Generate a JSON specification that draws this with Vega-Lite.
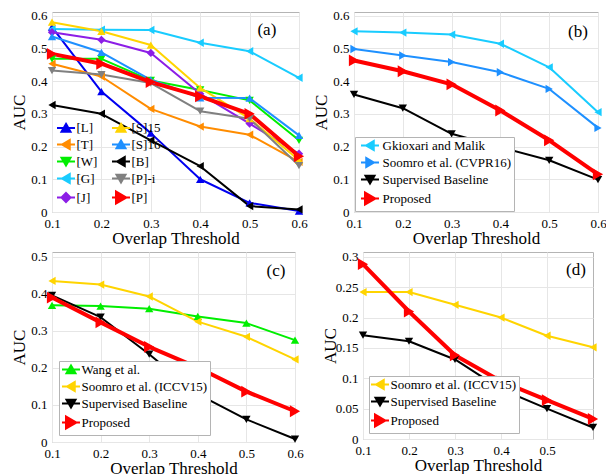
{
  "$schema": "https://vega.github.io/schema/vega-lite/v6.json",
  "padding": {"left": 9, "top": 9, "right": 0, "bottom": 0},
  "background": "white",
  "datasets": {
    "a": [
      {"m": "[L]", "t": 0.1, "auc": 0.565}, {"m": "[L]", "t": 0.2, "auc": 0.368}, {"m": "[L]", "t": 0.3, "auc": 0.241}, {"m": "[L]", "t": 0.4, "auc": 0.1}, {"m": "[L]", "t": 0.5, "auc": 0.028}, {"m": "[L]", "t": 0.6, "auc": 0.003},
      {"m": "[T]", "t": 0.1, "auc": 0.453}, {"m": "[T]", "t": 0.2, "auc": 0.414}, {"m": "[T]", "t": 0.3, "auc": 0.315}, {"m": "[T]", "t": 0.4, "auc": 0.261}, {"m": "[T]", "t": 0.5, "auc": 0.236}, {"m": "[T]", "t": 0.6, "auc": 0.153},
      {"m": "[W]", "t": 0.1, "auc": 0.468}, {"m": "[W]", "t": 0.2, "auc": 0.468}, {"m": "[W]", "t": 0.3, "auc": 0.402}, {"m": "[W]", "t": 0.4, "auc": 0.373}, {"m": "[W]", "t": 0.5, "auc": 0.341}, {"m": "[W]", "t": 0.6, "auc": 0.219},
      {"m": "[G]", "t": 0.1, "auc": 0.559}, {"m": "[G]", "t": 0.2, "auc": 0.557}, {"m": "[G]", "t": 0.3, "auc": 0.556}, {"m": "[G]", "t": 0.4, "auc": 0.517}, {"m": "[G]", "t": 0.5, "auc": 0.491}, {"m": "[G]", "t": 0.6, "auc": 0.41},
      {"m": "[J]", "t": 0.1, "auc": 0.549}, {"m": "[J]", "t": 0.2, "auc": 0.526}, {"m": "[J]", "t": 0.3, "auc": 0.486}, {"m": "[J]", "t": 0.4, "auc": 0.361}, {"m": "[J]", "t": 0.5, "auc": 0.27}, {"m": "[J]", "t": 0.6, "auc": 0.178},
      {"m": "[S]15", "t": 0.1, "auc": 0.58}, {"m": "[S]15", "t": 0.2, "auc": 0.552}, {"m": "[S]15", "t": 0.3, "auc": 0.51}, {"m": "[S]15", "t": 0.4, "auc": 0.379}, {"m": "[S]15", "t": 0.5, "auc": 0.285}, {"m": "[S]15", "t": 0.6, "auc": 0.158},
      {"m": "[S]16", "t": 0.1, "auc": 0.536}, {"m": "[S]16", "t": 0.2, "auc": 0.488}, {"m": "[S]16", "t": 0.3, "auc": 0.404}, {"m": "[S]16", "t": 0.4, "auc": 0.349}, {"m": "[S]16", "t": 0.5, "auc": 0.348}, {"m": "[S]16", "t": 0.6, "auc": 0.234},
      {"m": "[B]", "t": 0.1, "auc": 0.327}, {"m": "[B]", "t": 0.2, "auc": 0.3}, {"m": "[B]", "t": 0.3, "auc": 0.219}, {"m": "[B]", "t": 0.4, "auc": 0.14}, {"m": "[B]", "t": 0.5, "auc": 0.018}, {"m": "[B]", "t": 0.6, "auc": 0.008},
      {"m": "[P]-i", "t": 0.1, "auc": 0.432}, {"m": "[P]-i", "t": 0.2, "auc": 0.42}, {"m": "[P]-i", "t": 0.3, "auc": 0.394}, {"m": "[P]-i", "t": 0.4, "auc": 0.308}, {"m": "[P]-i", "t": 0.5, "auc": 0.285}, {"m": "[P]-i", "t": 0.6, "auc": 0.142},
      {"m": "[P]", "t": 0.1, "auc": 0.483}, {"m": "[P]", "t": 0.2, "auc": 0.453}, {"m": "[P]", "t": 0.3, "auc": 0.397}, {"m": "[P]", "t": 0.4, "auc": 0.353}, {"m": "[P]", "t": 0.5, "auc": 0.3}, {"m": "[P]", "t": 0.6, "auc": 0.17}
    ],
    "b": [
      {"m": "Gkioxari and Malik", "t": 0.1, "auc": 0.552}, {"m": "Gkioxari and Malik", "t": 0.2, "auc": 0.548}, {"m": "Gkioxari and Malik", "t": 0.3, "auc": 0.542}, {"m": "Gkioxari and Malik", "t": 0.4, "auc": 0.514}, {"m": "Gkioxari and Malik", "t": 0.5, "auc": 0.442}, {"m": "Gkioxari and Malik", "t": 0.6, "auc": 0.305},
      {"m": "Soomro et al. (CVPR16)", "t": 0.1, "auc": 0.498}, {"m": "Soomro et al. (CVPR16)", "t": 0.2, "auc": 0.478}, {"m": "Soomro et al. (CVPR16)", "t": 0.3, "auc": 0.458}, {"m": "Soomro et al. (CVPR16)", "t": 0.4, "auc": 0.427}, {"m": "Soomro et al. (CVPR16)", "t": 0.5, "auc": 0.376}, {"m": "Soomro et al. (CVPR16)", "t": 0.6, "auc": 0.257},
      {"m": "Supervised Baseline", "t": 0.1, "auc": 0.359}, {"m": "Supervised Baseline", "t": 0.2, "auc": 0.317}, {"m": "Supervised Baseline", "t": 0.3, "auc": 0.239}, {"m": "Supervised Baseline", "t": 0.4, "auc": 0.198}, {"m": "Supervised Baseline", "t": 0.5, "auc": 0.158}, {"m": "Supervised Baseline", "t": 0.6, "auc": 0.099},
      {"m": "Proposed", "t": 0.1, "auc": 0.463}, {"m": "Proposed", "t": 0.2, "auc": 0.43}, {"m": "Proposed", "t": 0.3, "auc": 0.39}, {"m": "Proposed", "t": 0.4, "auc": 0.31}, {"m": "Proposed", "t": 0.5, "auc": 0.219}, {"m": "Proposed", "t": 0.6, "auc": 0.115}
    ],
    "c": [
      {"m": "Wang et al.", "t": 0.1, "auc": 0.369}, {"m": "Wang et al.", "t": 0.2, "auc": 0.367}, {"m": "Wang et al.", "t": 0.3, "auc": 0.36}, {"m": "Wang et al.", "t": 0.4, "auc": 0.339}, {"m": "Wang et al.", "t": 0.5, "auc": 0.321}, {"m": "Wang et al.", "t": 0.6, "auc": 0.275},
      {"m": "Soomro et al. (ICCV15)", "t": 0.1, "auc": 0.435}, {"m": "Soomro et al. (ICCV15)", "t": 0.2, "auc": 0.425}, {"m": "Soomro et al. (ICCV15)", "t": 0.3, "auc": 0.393}, {"m": "Soomro et al. (ICCV15)", "t": 0.4, "auc": 0.325}, {"m": "Soomro et al. (ICCV15)", "t": 0.5, "auc": 0.284}, {"m": "Soomro et al. (ICCV15)", "t": 0.6, "auc": 0.223},
      {"m": "Supervised Baseline", "t": 0.1, "auc": 0.396}, {"m": "Supervised Baseline", "t": 0.2, "auc": 0.337}, {"m": "Supervised Baseline", "t": 0.3, "auc": 0.237}, {"m": "Supervised Baseline", "t": 0.4, "auc": 0.129}, {"m": "Supervised Baseline", "t": 0.5, "auc": 0.061}, {"m": "Supervised Baseline", "t": 0.6, "auc": 0.008},
      {"m": "Proposed", "t": 0.1, "auc": 0.39}, {"m": "Proposed", "t": 0.2, "auc": 0.323}, {"m": "Proposed", "t": 0.3, "auc": 0.257}, {"m": "Proposed", "t": 0.4, "auc": 0.201}, {"m": "Proposed", "t": 0.5, "auc": 0.136}, {"m": "Proposed", "t": 0.6, "auc": 0.083}
    ],
    "d": [
      {"m": "Soomro et al. (ICCV15)", "t": 0.1, "auc": 0.242}, {"m": "Soomro et al. (ICCV15)", "t": 0.2, "auc": 0.242}, {"m": "Soomro et al. (ICCV15)", "t": 0.3, "auc": 0.221}, {"m": "Soomro et al. (ICCV15)", "t": 0.4, "auc": 0.2}, {"m": "Soomro et al. (ICCV15)", "t": 0.5, "auc": 0.17}, {"m": "Soomro et al. (ICCV15)", "t": 0.6, "auc": 0.151},
      {"m": "Supervised Baseline", "t": 0.1, "auc": 0.171}, {"m": "Supervised Baseline", "t": 0.2, "auc": 0.161}, {"m": "Supervised Baseline", "t": 0.3, "auc": 0.131}, {"m": "Supervised Baseline", "t": 0.4, "auc": 0.082}, {"m": "Supervised Baseline", "t": 0.5, "auc": 0.05}, {"m": "Supervised Baseline", "t": 0.6, "auc": 0.019},
      {"m": "Proposed", "t": 0.1, "auc": 0.288}, {"m": "Proposed", "t": 0.2, "auc": 0.21}, {"m": "Proposed", "t": 0.3, "auc": 0.138}, {"m": "Proposed", "t": 0.4, "auc": 0.095}, {"m": "Proposed", "t": 0.5, "auc": 0.064}, {"m": "Proposed", "t": 0.6, "auc": 0.033}
    ]
  },
  "config": {
    "font": "Liberation Serif",
    "view": {"stroke": "#b4b4b4", "strokeWidth": 1},
    "axis": {
      "labelFont": "Liberation Serif", "labelFontSize": 13, "labelColor": "#000000",
      "titleFont": "Liberation Serif", "titleFontSize": 17, "titleFontWeight": "normal", "titleColor": "#000000",
      "gridColor": "#e6e6e6", "gridWidth": 1, "domain": false, "ticks": false, "labelPadding": 5,
      "labelFlush": false, "labelOverlap": false
    },
    "axisX": {"titlePadding": 0},
    "axisY": {"titlePadding": 3, "minExtent": 21, "maxExtent": 21},
    "legend": {"labelFont": "Liberation Serif", "labelFontSize": 13, "labelColor": "#000000", "title": null, "symbolStrokeWidth": 2, "symbolSize": 100, "rowPadding": 0}
  },
  "vconcat": [
    {
      "hconcat": [
        {
          "width": 247, "height": 200,
          "layer": [
            {
              "data": {"name": "a"},
              "mark": {"type": "line", "strokeJoin": "round"},
              "encoding": {
                "x": {"field": "t", "type": "quantitative", "scale": {"domain": [0.1, 0.6], "nice": false, "zero": false}, "axis": {"values": [0.1, 0.2, 0.3, 0.4, 0.5, 0.6], "format": ".1f", "title": "Overlap Threshold", "labelOverlap": false}},
                "y": {"field": "auc", "type": "quantitative", "scale": {"domain": [0, 0.611], "nice": false}, "axis": {"values": [0, 0.1, 0.2, 0.3, 0.4, 0.5, 0.6], "format": "~g", "title": "AUC", "labelOverlap": false}},
                "color": {"field": "m", "type": "nominal", "scale": {"domain": ["[L]", "[T]", "[W]", "[G]", "[J]", "[S]15", "[S]16", "[B]", "[P]-i", "[P]"], "range": ["#0000f0", "#ff8c00", "#00ee00", "#19ccff", "#8c1ee6", "#ffd400", "#1e90ff", "#000000", "#808080", "#ff0000"]},
                  "legend": {"orient": "bottom-left", "offset": 4, "padding": 0, "columns": 2, "columnPadding": 10, "symbolOffset": 3.5, "labelOffset": 4}},
                "strokeWidth": {"condition": {"test": "datum.m === '[P]'", "value": 4}, "value": 2}
              }
            },
            {
              "data": {"name": "a"},
              "mark": {"type": "point", "filled": true, "opacity": 1},
              "encoding": {
                "x": {"field": "t", "type": "quantitative", "axis": {"values": [0.1, 0.2, 0.3, 0.4, 0.5, 0.6], "format": ".1f", "title": "Overlap Threshold", "labelOverlap": false}},
                "y": {"field": "auc", "type": "quantitative", "axis": {"values": [0, 0.1, 0.2, 0.3, 0.4, 0.5, 0.6], "format": "~g", "title": "AUC", "labelOverlap": false}},
                "color": {"field": "m", "type": "nominal"},
                "shape": {"condition": [
                  {"test": "indexof(['[T]','[G]','[B]'], datum.m) >= 0", "value": "triangle-left"},
                  {"test": "indexof(['[W]','[P]-i'], datum.m) >= 0", "value": "triangle-down"},
                  {"test": "datum.m === '[J]'", "value": "diamond"},
                  {"test": "datum.m === '[P]'", "value": "triangle-right"}
                ], "value": "triangle-up"},
                "size": {"condition": {"test": "datum.m === '[P]'", "value": 140}, "value": 70}
              }
            },
            {
              "data": {"name": "a"},
              "transform": [{"filter": "false"}],
              "mark": {"type": "point", "filled": true, "opacity": 1},
              "encoding": {
                "x": {"field": "t", "type": "quantitative", "axis": {"values": [0.1, 0.2, 0.3, 0.4, 0.5, 0.6], "format": ".1f", "title": "Overlap Threshold", "labelOverlap": false}},
                "y": {"field": "auc", "type": "quantitative", "axis": {"values": [0, 0.1, 0.2, 0.3, 0.4, 0.5, 0.6], "format": "~g", "title": "AUC", "labelOverlap": false}},
                "color": {"field": "m", "type": "nominal"},
                "shape": {"field": "m", "type": "nominal", "scale": {"domain": ["[L]", "[T]", "[W]", "[G]", "[J]", "[S]15", "[S]16", "[B]", "[P]-i", "[P]"], "range": ["M-1.8,0H1.8M0,-0.8L0.9,0.75L-0.9,0.75Z", "M-1.8,0H1.8M-0.8,0L0.75,-0.9L0.75,0.9Z", "M-1.8,0H1.8M0,0.8L0.9,-0.75L-0.9,-0.75Z", "M-1.8,0H1.8M-0.8,0L0.75,-0.9L0.75,0.9Z", "M-1.8,0H1.8M0,-0.9L0.9,0L0,0.9L-0.9,0Z", "M-1.8,0H1.8M0,-0.8L0.9,0.75L-0.9,0.75Z", "M-1.8,0H1.8M0,-0.8L0.9,0.75L-0.9,0.75Z", "M-1.8,0H1.8M-0.8,0L0.75,-0.9L0.75,0.9Z", "M-1.8,0H1.8M0,0.8L0.9,-0.75L-0.9,-0.75Z", "M-1.8,0H1.8M1.1,0L-1,-1.2L-1,1.2Z"]}}
              }
            },
            {
              "data": {"values": [{"label": "(a)"}]},
              "mark": {"type": "text", "font": "Liberation Serif", "fontSize": 17, "color": "#000000", "align": "center", "baseline": "middle"},
              "encoding": {"x": {"datum": 0.535, "type": "quantitative", "axis": {"values": [0.1, 0.2, 0.3, 0.4, 0.5, 0.6], "format": ".1f", "title": "Overlap Threshold", "labelOverlap": false}}, "y": {"datum": 0.556, "type": "quantitative", "axis": {"values": [0, 0.1, 0.2, 0.3, 0.4, 0.5, 0.6], "format": "~g", "title": "AUC", "labelOverlap": false}}, "text": {"field": "label"}}
            }
          ]
        },
        {
          "width": 244, "height": 200,
          "layer": [
            {
              "data": {"name": "b"},
              "mark": {"type": "line", "strokeJoin": "round"},
              "encoding": {
                "x": {"field": "t", "type": "quantitative", "scale": {"domain": [0.1, 0.6], "nice": false, "zero": false}, "axis": {"values": [0.1, 0.2, 0.3, 0.4, 0.5, 0.6], "format": ".1f", "title": "Overlap Threshold", "labelOverlap": false}},
                "y": {"field": "auc", "type": "quantitative", "scale": {"domain": [0, 0.611], "nice": false}, "axis": {"values": [0, 0.1, 0.2, 0.3, 0.4, 0.5, 0.6], "format": "~g", "title": "AUC", "labelOverlap": false}},
                "color": {"field": "m", "type": "nominal", "scale": {"domain": ["Gkioxari and Malik", "Soomro et al. (CVPR16)", "Supervised Baseline", "Proposed"], "range": ["#19ccff", "#1e90ff", "#000000", "#ff0000"]},
                  "legend": {"orient": "bottom-left", "offset": 1, "padding": 2, "strokeColor": "#b4b4b4", "fillColor": "#ffffff", "symbolOffset": 6.5, "labelOffset": 6}},
                "strokeWidth": {"condition": {"test": "datum.m === 'Proposed'", "value": 4}, "value": 2}
              }
            },
            {
              "data": {"name": "b"},
              "mark": {"type": "point", "filled": true, "opacity": 1},
              "encoding": {
                "x": {"field": "t", "type": "quantitative", "axis": {"values": [0.1, 0.2, 0.3, 0.4, 0.5, 0.6], "format": ".1f", "title": "Overlap Threshold", "labelOverlap": false}},
                "y": {"field": "auc", "type": "quantitative", "axis": {"values": [0, 0.1, 0.2, 0.3, 0.4, 0.5, 0.6], "format": "~g", "title": "AUC", "labelOverlap": false}},
                "color": {"field": "m", "type": "nominal"},
                "shape": {"condition": [
                  {"test": "datum.m === 'Gkioxari and Malik'", "value": "triangle-left"},
                  {"test": "datum.m === 'Supervised Baseline'", "value": "triangle-down"}
                ], "value": "triangle-right"},
                "size": {"condition": {"test": "datum.m === 'Proposed'", "value": 140}, "value": 70}
              }
            },
            {
              "data": {"name": "b"},
              "transform": [{"filter": "false"}],
              "mark": {"type": "point", "filled": true, "opacity": 1},
              "encoding": {
                "x": {"field": "t", "type": "quantitative", "axis": {"values": [0.1, 0.2, 0.3, 0.4, 0.5, 0.6], "format": ".1f", "title": "Overlap Threshold", "labelOverlap": false}},
                "y": {"field": "auc", "type": "quantitative", "axis": {"values": [0, 0.1, 0.2, 0.3, 0.4, 0.5, 0.6], "format": "~g", "title": "AUC", "labelOverlap": false}},
                "color": {"field": "m", "type": "nominal"},
                "shape": {"field": "m", "type": "nominal", "scale": {"domain": ["Gkioxari and Malik", "Soomro et al. (CVPR16)", "Supervised Baseline", "Proposed"], "range": ["M-1.8,0H1.8M-0.8,0L0.75,-0.9L0.75,0.9Z", "M-1.8,0H1.8M0.8,0L-0.75,-0.9L-0.75,0.9Z", "M-1.8,0H1.8M0,0.8L0.9,-0.75L-0.9,-0.75Z", "M-1.8,0H1.8M1.1,0L-1,-1.2L-1,1.2Z"]}}
              }
            },
            {
              "data": {"values": [{"label": "(b)"}]},
              "mark": {"type": "text", "font": "Liberation Serif", "fontSize": 17, "color": "#000000", "align": "center", "baseline": "middle"},
              "encoding": {"x": {"datum": 0.559, "type": "quantitative", "axis": {"values": [0.1, 0.2, 0.3, 0.4, 0.5, 0.6], "format": ".1f", "title": "Overlap Threshold", "labelOverlap": false}}, "y": {"datum": 0.55, "type": "quantitative", "axis": {"values": [0, 0.1, 0.2, 0.3, 0.4, 0.5, 0.6], "format": "~g", "title": "AUC", "labelOverlap": false}}, "text": {"field": "label"}}
            }
          ]
        }
      ],
      "spacing": 55,
      "bounds": "flush",
      "resolve": {"scale": {"color": "independent", "shape": "independent"}, "legend": {"color": "independent", "shape": "independent"}}
    },
    {
      "hconcat": [
        {
          "width": 243, "height": 190,
          "layer": [
            {
              "data": {"name": "c"},
              "mark": {"type": "line", "strokeJoin": "round"},
              "encoding": {
                "x": {"field": "t", "type": "quantitative", "scale": {"domain": [0.1, 0.6], "nice": false, "zero": false}, "axis": {"values": [0.1, 0.2, 0.3, 0.4, 0.5, 0.6], "format": ".1f", "title": "Overlap Threshold", "labelOverlap": false}},
                "y": {"field": "auc", "type": "quantitative", "scale": {"domain": [0, 0.513], "nice": false}, "axis": {"values": [0, 0.1, 0.2, 0.3, 0.4, 0.5], "format": "~g", "title": "AUC", "labelOverlap": false}},
                "color": {"field": "m", "type": "nominal", "scale": {"domain": ["Wang et al.", "Soomro et al. (ICCV15)", "Supervised Baseline", "Proposed"], "range": ["#00ee00", "#ffd400", "#000000", "#ff0000"]},
                  "legend": {"orient": "bottom-left", "offset": 7, "padding": 2, "strokeColor": "#b4b4b4", "fillColor": "#ffffff", "symbolOffset": 3.5, "labelOffset": 4}},
                "strokeWidth": {"condition": {"test": "datum.m === 'Proposed'", "value": 4}, "value": 2}
              }
            },
            {
              "data": {"name": "c"},
              "mark": {"type": "point", "filled": true, "opacity": 1},
              "encoding": {
                "x": {"field": "t", "type": "quantitative", "axis": {"values": [0.1, 0.2, 0.3, 0.4, 0.5, 0.6], "format": ".1f", "title": "Overlap Threshold", "labelOverlap": false}},
                "y": {"field": "auc", "type": "quantitative", "axis": {"values": [0, 0.1, 0.2, 0.3, 0.4, 0.5], "format": "~g", "title": "AUC", "labelOverlap": false}},
                "color": {"field": "m", "type": "nominal"},
                "shape": {"condition": [
                  {"test": "datum.m === 'Wang et al.'", "value": "triangle-up"},
                  {"test": "datum.m === 'Soomro et al. (ICCV15)'", "value": "triangle-left"},
                  {"test": "datum.m === 'Supervised Baseline'", "value": "triangle-down"}
                ], "value": "triangle-right"},
                "size": {"condition": {"test": "datum.m === 'Proposed'", "value": 140}, "value": 70}
              }
            },
            {
              "data": {"name": "c"},
              "transform": [{"filter": "false"}],
              "mark": {"type": "point", "filled": true, "opacity": 1},
              "encoding": {
                "x": {"field": "t", "type": "quantitative", "axis": {"values": [0.1, 0.2, 0.3, 0.4, 0.5, 0.6], "format": ".1f", "title": "Overlap Threshold", "labelOverlap": false}},
                "y": {"field": "auc", "type": "quantitative", "axis": {"values": [0, 0.1, 0.2, 0.3, 0.4, 0.5], "format": "~g", "title": "AUC", "labelOverlap": false}},
                "color": {"field": "m", "type": "nominal"},
                "shape": {"field": "m", "type": "nominal", "scale": {"domain": ["Wang et al.", "Soomro et al. (ICCV15)", "Supervised Baseline", "Proposed"], "range": ["M-1.8,0H1.8M0,-0.8L0.9,0.75L-0.9,0.75Z", "M-1.8,0H1.8M-0.8,0L0.75,-0.9L0.75,0.9Z", "M-1.8,0H1.8M0,0.8L0.9,-0.75L-0.9,-0.75Z", "M-1.8,0H1.8M1.1,0L-1,-1.2L-1,1.2Z"]}}
              }
            },
            {
              "data": {"values": [{"label": "(c)"}]},
              "mark": {"type": "text", "font": "Liberation Serif", "fontSize": 17, "color": "#000000", "align": "center", "baseline": "middle"},
              "encoding": {"x": {"datum": 0.561, "type": "quantitative", "axis": {"values": [0.1, 0.2, 0.3, 0.4, 0.5, 0.6], "format": ".1f", "title": "Overlap Threshold", "labelOverlap": false}}, "y": {"datum": 0.462, "type": "quantitative", "axis": {"values": [0, 0.1, 0.2, 0.3, 0.4, 0.5], "format": "~g", "title": "AUC", "labelOverlap": false}}, "text": {"field": "label"}}
            }
          ]
        },
        {
          "width": 230, "height": 187,
          "layer": [
            {
              "data": {"name": "d"},
              "mark": {"type": "line", "strokeJoin": "round"},
              "encoding": {
                "x": {"field": "t", "type": "quantitative", "scale": {"domain": [0.1, 0.6], "nice": false, "zero": false}, "axis": {"values": [0.1, 0.2, 0.3, 0.4, 0.5], "format": ".1f", "title": "Overlap Threshold", "labelOverlap": false}},
                "y": {"field": "auc", "type": "quantitative", "scale": {"domain": [0, 0.308], "nice": false}, "axis": {"values": [0, 0.05, 0.1, 0.15, 0.2, 0.25, 0.3], "format": "~g", "title": "AUC", "labelOverlap": false}},
                "color": {"field": "m", "type": "nominal", "scale": {"domain": ["Soomro et al. (ICCV15)", "Supervised Baseline", "Proposed"], "range": ["#ffd400", "#000000", "#ff0000"]},
                  "legend": {"orient": "bottom-left", "offset": 6, "padding": 2, "strokeColor": "#b4b4b4", "fillColor": "#ffffff", "symbolOffset": 2.5, "labelOffset": 4}},
                "strokeWidth": {"condition": {"test": "datum.m === 'Proposed'", "value": 4}, "value": 2}
              }
            },
            {
              "data": {"name": "d"},
              "mark": {"type": "point", "filled": true, "opacity": 1},
              "encoding": {
                "x": {"field": "t", "type": "quantitative", "axis": {"values": [0.1, 0.2, 0.3, 0.4, 0.5], "format": ".1f", "title": "Overlap Threshold", "labelOverlap": false}},
                "y": {"field": "auc", "type": "quantitative", "axis": {"values": [0, 0.05, 0.1, 0.15, 0.2, 0.25, 0.3], "format": "~g", "title": "AUC", "labelOverlap": false}},
                "color": {"field": "m", "type": "nominal"},
                "shape": {"condition": [
                  {"test": "datum.m === 'Soomro et al. (ICCV15)'", "value": "triangle-left"},
                  {"test": "datum.m === 'Supervised Baseline'", "value": "triangle-down"}
                ], "value": "triangle-right"},
                "size": {"condition": {"test": "datum.m === 'Proposed'", "value": 140}, "value": 70}
              }
            },
            {
              "data": {"name": "d"},
              "transform": [{"filter": "false"}],
              "mark": {"type": "point", "filled": true, "opacity": 1},
              "encoding": {
                "x": {"field": "t", "type": "quantitative", "axis": {"values": [0.1, 0.2, 0.3, 0.4, 0.5], "format": ".1f", "title": "Overlap Threshold", "labelOverlap": false}},
                "y": {"field": "auc", "type": "quantitative", "axis": {"values": [0, 0.05, 0.1, 0.15, 0.2, 0.25, 0.3], "format": "~g", "title": "AUC", "labelOverlap": false}},
                "color": {"field": "m", "type": "nominal"},
                "shape": {"field": "m", "type": "nominal", "scale": {"domain": ["Soomro et al. (ICCV15)", "Supervised Baseline", "Proposed"], "range": ["M-1.8,0H1.8M-0.8,0L0.75,-0.9L0.75,0.9Z", "M-1.8,0H1.8M0,0.8L0.9,-0.75L-0.9,-0.75Z", "M-1.8,0H1.8M1.1,0L-1,-1.2L-1,1.2Z"]}}
              }
            },
            {
              "data": {"values": [{"label": "(d)"}]},
              "mark": {"type": "text", "font": "Liberation Serif", "fontSize": 17, "color": "#000000", "align": "center", "baseline": "middle"},
              "encoding": {"x": {"datum": 0.563, "type": "quantitative", "axis": {"values": [0.1, 0.2, 0.3, 0.4, 0.5], "format": ".1f", "title": "Overlap Threshold", "labelOverlap": false}}, "y": {"datum": 0.278, "type": "quantitative", "axis": {"values": [0, 0.05, 0.1, 0.15, 0.2, 0.25, 0.3], "format": "~g", "title": "AUC", "labelOverlap": false}}, "text": {"field": "label"}}
            }
          ]
        }
      ],
      "spacing": 68,
      "bounds": "flush",
      "resolve": {"scale": {"color": "independent", "shape": "independent"}, "legend": {"color": "independent", "shape": "independent"}}
    }
  ],
  "spacing": 3,
  "resolve": {"scale": {"color": "independent", "shape": "independent"}, "legend": {"color": "independent", "shape": "independent"}}
}
